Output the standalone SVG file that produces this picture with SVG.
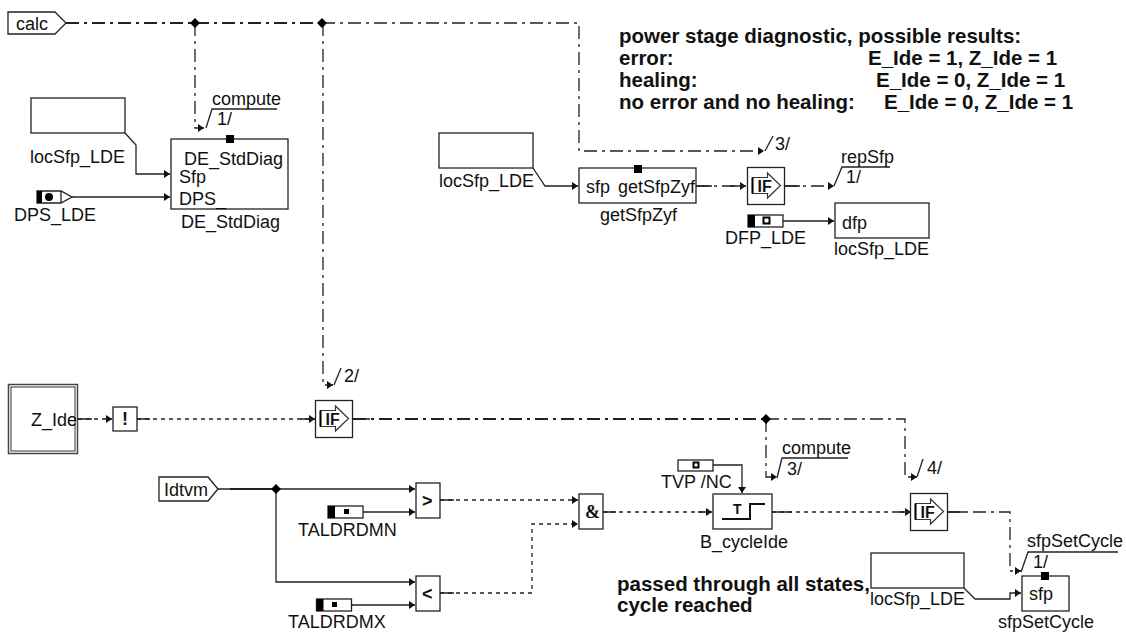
<svg xmlns="http://www.w3.org/2000/svg" width="1126" height="635" viewBox="0 0 1126 635">
<style>
text{font-family:"Liberation Sans",Arial,sans-serif;font-size:18px;fill:#111}
.b{font-weight:bold}
.n{font-weight:bold;font-size:20.500px}
.box{fill:#fff;stroke:#222;stroke-width:1.3}
.ln{fill:none;stroke:#222;stroke-width:1.3}
.dd{fill:none;stroke:#222;stroke-width:1.3;stroke-dasharray:13 5 3 5}
.dt{fill:none;stroke:#222;stroke-width:1.3;stroke-dasharray:4 4}
.th{stroke-width:2.2}
.k{fill:#000;stroke:none}
</style>
<defs>
<marker id="a" markerWidth="8" markerHeight="8" refX="7" refY="4" orient="auto" markerUnits="userSpaceOnUse"><path d="M1 0L7 4L1 8Z" fill="#111"/></marker>
<g id="iff"><rect class="box" x="0" y="0" width="37" height="37"/><path d="M5 10H20V5.500L33 18L20 30.500V26H5Z" fill="#fff" stroke="#333" stroke-width="1.200"/><path d="M5 10V26" stroke="#000" stroke-width="2" fill="none"/><text class="b" x="10" y="24" style="font-size:16px">IF</text></g>
<g id="kon"><rect class="box" x="0" y="0" width="35" height="12"/><rect class="k" x="0" y="0" width="7" height="12"/></g>
</defs>
<g id="connectors">
<path class="dd th" d="M66 23H322"/>
<path class="dd" d="M322 23H579V151H764" marker-end="url(#a)"/>
<path class="dd" d="M195 23V128H204" marker-end="url(#a)"/>
<path class="dd" d="M323 23V385H333" marker-end="url(#a)"/>
<path class="ln" d="M125 133L136 145V174H170" marker-end="url(#a)"/>
<path class="ln" d="M72 197H170" marker-end="url(#a)"/>
<path class="ln" d="M533 168L545 186H578" marker-end="url(#a)"/>
<path class="dd" d="M696 186H746" marker-end="url(#a)"/>
<path class="dd" d="M785 186H834" marker-end="url(#a)"/>
<path class="ln" d="M783 221H834" marker-end="url(#a)"/>
<path class="dt" d="M78 419H112" marker-end="url(#a)"/>
<path class="dt" d="M137 419H315" marker-end="url(#a)"/>
<path class="dd th" d="M353 419H766"/>
<path class="dd" d="M766 419H905V477H917" marker-end="url(#a)"/>
<path class="dd" d="M766 419V477H777" marker-end="url(#a)"/>
<path class="ln" d="M218 489H415" marker-end="url(#a)"/>
<path class="ln th" d="M230 489H276"/>
<path class="ln" d="M276 489V582H415" marker-end="url(#a)"/>
<path class="ln" d="M363 512H415" marker-end="url(#a)"/>
<path class="ln" d="M352 605H415" marker-end="url(#a)"/>
<path class="dt" d="M440 500H578" marker-end="url(#a)"/>
<path class="dt" d="M440 593H532V524H578" marker-end="url(#a)"/>
<path class="dt" d="M603 512H712" marker-end="url(#a)"/>
<path class="ln" d="M713 465H742V493" marker-end="url(#a)"/>
<path class="dt" d="M772 512H911" marker-end="url(#a)"/>
<path class="dd" d="M947 512H1010V571H1021" marker-end="url(#a)"/>
<path class="ln" d="M964 588L975 599H1010V593H1021" marker-end="url(#a)"/>
<path class="ln" d="M78 419H92M137 419H150M300 419H315M440 500H454M440 593H454M603 512H616M698 512H712M772 512H792M896 512H911M947 512H965M785 186H800M696 186H712M730 186H746M353 419H370"/>
<path class="ln" d="M206 128L212 109H277"/>
<path class="ln" d="M765 151L773 136"/>
<path class="ln" d="M834 186L842 167H890"/>
<path class="ln" d="M334 385L341 368"/>
<path class="ln" d="M777 478L782 458H848"/>
<path class="ln" d="M917 477L923 459"/>
<path class="ln" d="M1021 572L1028 552H1118"/>
<path class="k" d="M195 18L200 23L195 28L190 23ZM322 18L327 23L322 28L317 23ZM766 414L771 419L766 424L761 419ZM276 484L281 489L276 494L271 489Z"/>
</g>
<g id="calc"><path class="box" d="M8 12H55L66 23L55 34H8Z"/><text x="16" y="30">calc</text></g>
<g id="locSfp1"><rect class="box" x="31" y="98" width="94" height="35"/><text x="30" y="163">locSfp_LDE</text></g>
<g id="deStdDiag"><rect class="box" x="171" y="139" width="117" height="70"/><rect class="k" x="226" y="135" width="8" height="8"/><text x="184" y="165">DE_StdDiag</text><text x="179" y="183">Sfp</text><text x="179" y="205">DPS_</text><text x="181" y="228">DE_StdDiag</text></g>
<g id="dps"><path class="box" d="M37 191H61L72 197L61 203H37Z"/><path class="ln" d="M61 191V203"/><rect class="k" x="37" y="191" width="5" height="12"/><circle class="k" cx="49" cy="197" r="4"/><text x="14" y="221">DPS_LDE</text></g>
<text x="212" y="105">compute</text><text x="217" y="125">1/</text>
<g id="note"><text class="n" x="619" y="43">power stage diagnostic, possible results:</text><text class="n" x="619" y="65">error:</text><text class="n" x="868" y="65">E_Ide = 1, Z_Ide = 1</text><text class="n" x="619" y="87">healing:</text><text class="n" x="876" y="87">E_Ide = 0, Z_Ide = 1</text><text class="n" x="619" y="109">no error and no healing:</text><text class="n" x="884" y="109">E_Ide = 0, Z_Ide = 1</text></g>
<g id="locSfp2"><rect class="box" x="439" y="133" width="94" height="35"/><text x="439" y="187">locSfp_LDE</text></g>
<g id="getSfp"><rect class="box" x="579" y="168" width="117" height="35"/><rect class="k" x="634" y="165" width="8" height="8"/><text x="586" y="193">sfp</text><text x="618" y="193">getSfpZyf</text><text x="600" y="221">getSfpZyf</text></g>
<g id="if1"><use href="#iff" x="747.500" y="167.500"/></g>
<text x="775" y="150">3/</text><text x="841" y="163">repSfp</text><text x="846" y="183">1/</text>
<g id="dfpC"><use href="#kon" x="748" y="215"/><rect x="763.500" y="217.500" width="6" height="6" fill="#fff" stroke="#000" stroke-width="2"/><text x="725" y="244">DFP_LDE</text></g>
<g id="dfp"><rect class="box" x="835" y="203" width="94" height="35"/><text x="842" y="229">dfp</text><text x="834" y="255">locSfp_LDE</text></g>
<g id="Z"><rect x="8.500" y="384.500" width="69" height="69" fill="#fff" stroke="#444" stroke-width="1.500"/><rect x="11" y="387" width="64" height="64" fill="none" stroke="#333" stroke-width="1"/><text x="31" y="426">Z_Ide</text></g>
<g id="not"><rect class="box" x="113" y="407" width="24" height="24"/><text class="b" x="122" y="425">!</text></g>
<g id="if2"><use href="#iff" x="315.500" y="400.500"/></g>
<text x="344" y="382">2/</text>
<g id="idtvm"><path class="box" d="M159 477H208L218 489L208 501H159Z"/><text x="164" y="496">Idtvm</text></g>
<g id="gt"><rect class="box" x="416" y="483" width="24" height="35"/><text class="b" x="422" y="507">&gt;</text></g>
<g id="lt"><rect class="box" x="416" y="576" width="24" height="35"/><text class="b" x="422" y="600">&lt;</text></g>
<g id="mn"><use href="#kon" x="328" y="506"/><rect class="k" x="344" y="509" width="5" height="5"/><text x="298" y="536">TALDRDMN</text></g>
<g id="mx"><use href="#kon" x="316.500" y="599"/><rect class="k" x="332" y="602" width="5" height="5"/><text x="288" y="628">TALDRDMX</text></g>
<g id="and"><rect class="box" x="579" y="494" width="24" height="35"/><text x="585" y="518" style="font-family:'Liberation Serif',serif;font-weight:bold">&amp;</text></g>
<g id="tvp"><rect class="box" x="678" y="460" width="35" height="11"/><rect x="693.500" y="462.500" width="5" height="5" fill="#fff" stroke="#000" stroke-width="2"/><text x="661" y="488">TVP /NC</text></g>
<g id="turnon"><rect class="box" x="713" y="494" width="59" height="35"/><path d="M722 519H750V504H765" fill="none" stroke="#111" stroke-width="2"/><text class="b" x="733" y="514" style="font-size:14px">T</text><text x="700" y="548">B_cycleIde</text></g>
<text x="782" y="454">compute</text><text x="787" y="475">3/</text>
<text class="n" x="617" y="591">passed through all states,</text><text class="n" x="617" y="612">cycle reached</text>
<g id="if3"><use href="#iff" x="910.500" y="493.500"/></g>
<text x="927" y="474">4/</text>
<g id="locSfp3"><rect class="box" x="871" y="553" width="93" height="35"/><text x="870" y="605">locSfp_LDE</text></g>
<g id="sfp"><rect class="box" x="1022" y="576" width="47" height="35"/><rect class="k" x="1041" y="572" width="8" height="8"/><text x="1029" y="600">sfp</text><text x="998" y="628">sfpSetCycle</text></g>
<text x="1027" y="547">sfpSetCycle</text><text x="1033" y="568">1/</text>
</svg>
